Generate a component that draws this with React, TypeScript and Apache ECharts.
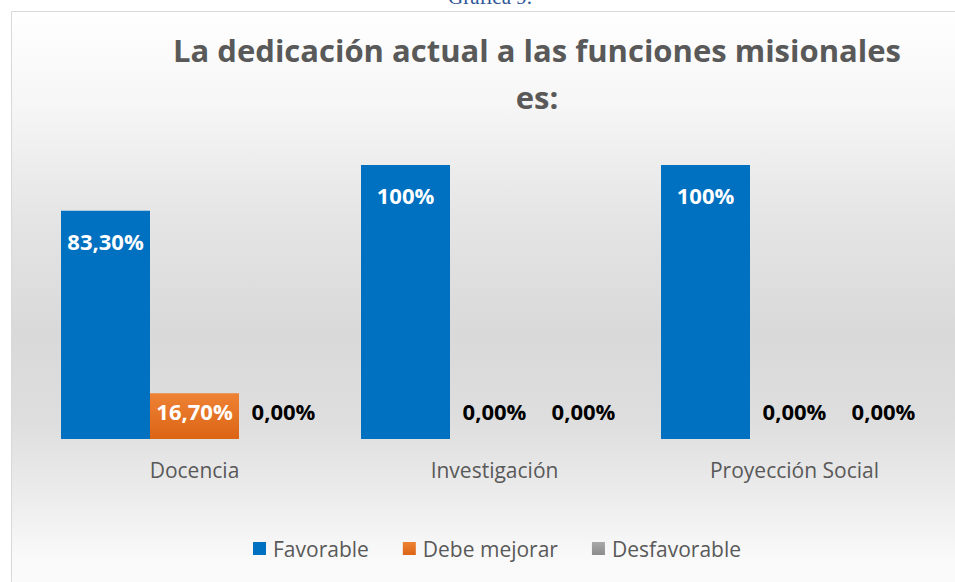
import React, { useEffect, useRef } from "react";
import * as echarts from "echarts";

const categories = ["Docencia", "Investigación", "Proyección Social"];
const favorable = [83.3, 100, 100];
const debeMejorar = [16.7, 0, 0];
const desfavorable = [0, 0, 0];
const seriesNames = ["Favorable", "Debe mejorar", "Desfavorable"];

const fmt = (v: number) =>
  v === 100 ? "100%" : v.toFixed(2).replace(".", ",") + "%";

const FONT = "Open Sans";

function grad(top: string, bottom: string) {
  return new echarts.graphic.LinearGradient(0, 0, 0, 1, [
    { offset: 0, color: top },
    { offset: 1, color: bottom },
  ]);
}

function makeData(values: number[], insideDist: number) {
  return values.map((v) => ({
    value: v,
    label:
      v === 0
        ? { position: "top", distance: 17, color: "#000000" }
        : { position: "insideTop", distance: insideDist, color: "#ffffff" },
  }));
}

export default function App() {
  const ref = useRef<HTMLDivElement>(null);
  useEffect(() => {
    if (!ref.current) return;
    const chart = echarts.init(ref.current, undefined, { renderer: "svg" });
    const labelBase = {
      show: true,
      fontFamily: FONT,
      fontSize: 22,
      fontWeight: "bold" as const,
      formatter: (p: any) => fmt(p.value),
    };
    chart.setOption({
      animation: false,
      backgroundColor: "#ffffff",
      graphic: [
        {
          type: "rect",
          z: -10,
          shape: { x: 11.5, y: 11.5, width: 1000, height: 620 },
          style: {
            fill: new echarts.graphic.LinearGradient(0, 0, 0, 1, [
              { offset: 0, color: "#ffffff" },
              { offset: 0.15, color: "#f6f6f6" },
              { offset: 0.33, color: "#e5e5e5" },
              { offset: 0.52, color: "#d9d9d9" },
              { offset: 0.66, color: "#dedede" },
              { offset: 0.78, color: "#ececec" },
              { offset: 0.88, color: "#f9f9f9" },
              { offset: 1, color: "#fcfcfc" },
            ]),
            stroke: "#d9d9d9",
            lineWidth: 1,
          },
        },
        {
          type: "text",
          z: 10,
          x: 490,
          y: 7,
          style: {
            text: "Gráfica 9.",
            fontFamily: "Liberation Serif",
            fontSize: 21,
            fill: "#2F5597",
            align: "center",
            verticalAlign: "bottom",
          },
        },
      ],
      title: {
        text: "La dedicación actual a las funciones misionales\nes:",
        left: 537,
        top: 26,
        padding: 0,
        textAlign: "center",
        textStyle: {
          fontFamily: FONT,
          fontSize: 31,
          fontWeight: "bold",
          color: "#595959",
          lineHeight: 47,
          align: "center",
        },
      },
      legend: {
        data: seriesNames,
        bottom: 23,
        left: 253,
        padding: 0,
        itemWidth: 13,
        itemHeight: 13,
        itemGap: 34,
        icon: "rect",
        textStyle: { fontFamily: FONT, fontSize: 21, color: "#595959", padding: [0, 0, 0, 2] },
      },
      grid: { left: 44.5, right: 10.5, top: 165, bottom: 143 },
      xAxis: {
        type: "category",
        data: categories,
        axisLine: { show: false },
        axisTick: { show: false },
        axisLabel: { fontFamily: FONT, fontSize: 21, color: "#595959", margin: 20 },
      },
      yAxis: {
        type: "value",
        min: 0,
        max: 100,
        show: false,
        splitLine: { show: false },
      },
      series: [
        {
          name: "Favorable",
          type: "bar",
          barGap: "0%",
          barCategoryGap: "11%",
          data: makeData(favorable, 19),
          itemStyle: { color: "#0070C0" },
          label: labelBase,
        },
        {
          name: "Debe mejorar",
          type: "bar",
          data: makeData(debeMejorar, 7),
          itemStyle: { color: grad("#EE8234", "#DC6415") },
          label: labelBase,
        },
        {
          name: "Desfavorable",
          type: "bar",
          data: makeData(desfavorable, 7),
          itemStyle: { color: grad("#A8A8A8", "#8C8C8C") },
          label: labelBase,
        },
      ],
    });
    return () => chart.dispose();
  }, []);
  return (
    <div
      ref={ref}
      style={{ position: "absolute", left: 0, top: 0, width: 955, height: 582 }}
    />
  );
}
